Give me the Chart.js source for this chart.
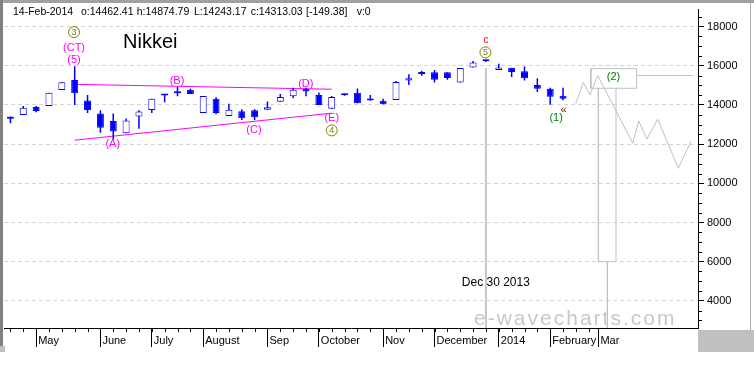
<!DOCTYPE html>
<html>
<head>
<meta charset="utf-8">
<script src="https://cdn.jsdelivr.net/npm/chart.js@4.4.1/dist/chart.umd.min.js"></script>
<style>
html,body{margin:0;padding:0;background:#fff;}
canvas{display:block;}
</style>
</head>
<body>
<canvas id="c" width="754" height="375" style="width:754px;height:375px"></canvas>
<script>
// ---------------- DATA ----------------
const weeks = ['2013-04-15','2013-04-22','2013-04-29','2013-05-06','2013-05-13','2013-05-20','2013-05-27',
  '2013-06-03','2013-06-10','2013-06-17','2013-06-24','2013-07-01','2013-07-08','2013-07-15','2013-07-22',
  '2013-07-29','2013-08-05','2013-08-12','2013-08-19','2013-08-26','2013-09-02','2013-09-09','2013-09-16',
  '2013-09-23','2013-09-30','2013-10-07','2013-10-14','2013-10-21','2013-10-28','2013-11-04','2013-11-11',
  '2013-11-18','2013-11-25','2013-12-02','2013-12-09','2013-12-16','2013-12-23','2013-12-30','2014-01-06',
  '2014-01-13','2014-01-20','2014-01-27','2014-02-03','2014-02-10'];
const opens  = [13350,13490,13890,13940,14760,15275,14225,13560,13175,12560,13410,13740,14480,14600,14775,
  13590,14310,13430,13675,13725,13760,14160,14440,14810,14510,13810,14560,14625,14310,14215,14250,
  15250,15680,15665,15665,15140,15915,16315,15780,15900,15715,15015,14830,14462.41];
const highs  = [13410,13940,13940,14625,15160,15975,14510,13725,13560,13310,13725,14310,14540,14925,14825,
  14460,14390,14060,13775,13775,14175,14560,14875,14875,14640,14460,14580,14840,14510,14315,15215,
  15565,15750,15780,15665,15880,16240,16315,16100,15900,15965,15365,14880,14874.79];
const lows   = [13060,13490,13625,13940,14760,13990,13590,12575,12240,12560,12790,13590,14140,14440,14560,
  13590,13525,13430,13225,13225,13760,14160,14340,14440,13990,13810,14470,14090,14225,14030,14250,
  15015,15490,15140,15280,15140,15915,16190,15780,15430,15250,14665,14015,14243.17];
const closes = [13300,13860,13690,14625,15160,14590,13740,12840,12640,13210,13660,14310,14520,14640,14560,
  14460,13590,13760,13325,13375,13875,14410,14775,14690,13990,14410,14490,14090,14225,14030,15165,
  15365,15580,15280,15380,15880,16165,16230,15915,15680,15365,14830,14415,14313.03];

// x-axis month separators (week position) and their labels
const monthTickPos    = [2, 7, 11, 15, 20, 24, 29, 33, 38, 42, 45.75];
const monthTickLabels = ['May','June','July','August','Sep','October','Nov','December','2014','February','Mar'];
const futureWeeks = 2;             // weekly minor ticks continue two weeks past the last candle

// y-axis
const Y_MIN = 2615, Y_MAX = 18865;
const yMajorTicks = [4000, 6000, 8000, 10000, 12000, 14000, 16000, 18000];
const yMinorStep = 500;

// triangle trend lines (week, price)
const trendUpperWeek = [5, 25],  trendUpperPrice = [15050, 14800];
const trendLowerWeek = [5, 25],  trendLowerPrice = [12200, 13580];

// projected path (grey zigzag)
const projWeek  = [43.99, 44.58, 45.10, 45.70, 48.42, 48.89, 49.52, 50.37, 51.97, 52.96];
const projPrice = [14065, 15150, 14515, 15500, 12050, 13180, 12265, 13265, 10765, 12150];

// (2) target box, its extension line and the long projection bar
const boxWeek  = [45.16, 48.72, 48.72, 45.16, 45.16];
const boxPrice = [14850, 14850, 15850, 15850, 14850];
const boxLineWeek = [48.72, 53.1], boxLinePrice = [15500, 15500];
const barBodyWeek  = [45.75, 45.75, 47.12, 47.12];
const barBodyPrice = [14850, 6000, 6000, 14850];
const barTailWeek  = [46.45, 46.45], barTailPrice = [6000, 1000];

// Dec 30 2013 marker line
const markerWeek = [37, 37], markerPrice = [15880, 1000];

// wave annotations (week, price)
const noteText  = ['3','(CT)','(5)','(A)','(B)','(C)','(D)','(E)','4','c','5','(1)','\u00ab','(2)','Dec 30 2013'];
const noteWeek  = [4.95, 4.95, 4.95, 7.96, 12.96, 18.95, 22.98, 25, 25, 37, 36.96, 42.46, 43.03, 46.92, 37.77];
const notePrice = [17715, 16930, 16300, 12050, 15265, 12750, 15115, 13350, 12700, 17350, 16680, 13350, 13750, 15465, 4965];
const noteKind  = ['circle','wave','wave','wave','wave','wave','wave','wave','circle','red','circle','green','dark','green','plain'];

const headerParts = ['14-Feb-2014','o:14462.41','h:14874.79','L:14243.17','c:14313.03','[-149.38]','v:0'];

// ---------------- STYLE ----------------
const FONT = "'Liberation Sans', Arial, sans-serif";
const BLUE = '#0000ff';
const GREY = '#c0c0c0';
const noteStyle = {
  circle: {color:'#808000', size:9},
  wave:   {color:'#ff00ff', size:11},
  red:    {color:'#ff0000', size:10},
  green:  {color:'#008000', size:11},
  dark:   {color:'#800000', size:11},
  plain:  {color:'#000000', size:12}
};
const headerX = [13, 81, 136.7, 194, 250.7, 306, 356.7];

const pts = (xs, ys) => xs.map((x, i) => ({x: x, y: ys[i]}));
const lineDs = (xs, ys, color, order) => ({
  type:'line', data: pts(xs, ys), borderColor: color, borderWidth: 1,
  pointRadius: 0, fill: false, tension: 0, order: order
});

const candleBodies = weeks.map((w, i) => ({x: i, y: [opens[i], closes[i]]}));
const candleWicks  = weeks.map((w, i) => ({x: i, y: [lows[i], highs[i]]}));

const framePlugin = {
  id: 'frame',
  beforeDraw(chart) {
    const c = chart.ctx;
    c.save();
    c.fillStyle = '#ffffff';
    c.fillRect(0, 0, 754, 375);
    c.fillStyle = '#a0a0a0';
    c.fillRect(0, 0, 754, 3);
    c.fillStyle = '#808080';
    c.fillRect(0, 0, 3, 347);
    c.fillStyle = '#c0c0c0';
    c.fillRect(0, 346, 5, 6);
    c.fillRect(698, 330, 56, 22);
    c.fillStyle = '#b0b0b0';
    c.fillRect(750, 3, 1, 327);
    c.restore();
  },
  afterDatasetsDraw(chart) {
    const c = chart.ctx;
    c.save();
    // watermark
    c.fillStyle = '#c8c8c8';
    c.font = '21px ' + FONT;
    try { c.letterSpacing = '2px'; } catch (e) {}
    c.textAlign = 'left'; c.textBaseline = 'alphabetic';
    c.fillText('e-wavecharts.com', 474, 325);
    try { c.letterSpacing = '0px'; } catch (e) {}
    c.restore();
  },
  afterDraw(chart) {
    const c = chart.ctx;
    const xs = chart.scales.x, ys = chart.scales.y;
    const area = chart.chartArea;
    c.save();
    // weekly minor ticks on x axis
    c.strokeStyle = '#000'; c.lineWidth = 1;
    c.beginPath();
    for (let i = 0; i < weeks.length + futureWeeks; i++) {
      const px = Math.round(xs.getPixelForValue(i)) + 0.5;
      c.moveTo(px, area.bottom); c.lineTo(px, area.bottom + 4);
    }
    // minor ticks on y axis
    for (let v = Math.ceil(Y_MIN / yMinorStep) * yMinorStep; v <= Y_MAX; v += yMinorStep) {
      if (yMajorTicks.includes(v)) continue;
      const py = Math.round(ys.getPixelForValue(v)) + 0.5;
      c.moveTo(area.right, py); c.lineTo(area.right + 4, py);
    }
    c.stroke();

    // header
    c.fillStyle = '#000';
    c.font = '10.5px ' + FONT;
    c.textAlign = 'left'; c.textBaseline = 'alphabetic';
    headerParts.forEach((t, i) => c.fillText(t, headerX[i], 15));
    // title
    c.font = '20px ' + FONT;
    c.fillText('Nikkei', 123, 48);

    // annotations
    c.textAlign = 'center'; c.textBaseline = 'middle';
    noteText.forEach((t, i) => {
      const st = noteStyle[noteKind[i]];
      const px = xs.getPixelForValue(noteWeek[i]);
      const py = ys.getPixelForValue(notePrice[i]);
      c.fillStyle = st.color;
      c.font = st.size + 'px ' + FONT;
      if (noteKind[i] === 'circle') {
        c.strokeStyle = st.color;
        c.beginPath(); c.arc(px, py, 5.5, 0, Math.PI * 2); c.stroke();
      }
      c.fillText(t, px, py + 0.5);
    });
    c.restore();
  }
};

new Chart(document.getElementById('c'), {
  type: 'bar',
  data: {
    datasets: [
      {
        type: 'bar', data: candleBodies, grouped: false,
        barThickness: 7, maxBarThickness: 7, minBarLength: 2, inflateAmount: 0,
        backgroundColor: ctx => (closes[ctx.dataIndex] < opens[ctx.dataIndex] ? BLUE : '#ffffff'),
        borderColor: BLUE, borderWidth: 1, borderSkipped: false, order: 0
      },
      {
        type: 'bar', data: candleWicks, grouped: false,
        barThickness: 1.5, maxBarThickness: 1.5, inflateAmount: 0,
        backgroundColor: BLUE, borderWidth: 0, order: 1
      },
      lineDs(trendUpperWeek, trendUpperPrice, '#ff00ff', 2),
      lineDs(trendLowerWeek, trendLowerPrice, '#ff00ff', 2),
      lineDs(projWeek, projPrice, GREY, 3),
      lineDs(boxWeek, boxPrice, GREY, 3),
      lineDs(boxLineWeek, boxLinePrice, GREY, 3),
      lineDs(barBodyWeek, barBodyPrice, GREY, 3),
      lineDs(barTailWeek, barTailPrice, GREY, 3),
      lineDs(markerWeek, markerPrice, GREY, 3)
    ]
  },
  options: {
    responsive: false,
    maintainAspectRatio: false,
    devicePixelRatio: 1,
    animation: false,
    events: [],
    layout: { padding: { left: 4, top: 3, right: 0, bottom: 0 } },
    plugins: { legend: { display: false }, tooltip: { enabled: false }, title: { display: false } },
    scales: {
      x: {
        type: 'linear', min: -0.5, max: 53.5, offset: false, position: 'bottom',
        afterBuildTicks: s => { s.ticks = monthTickPos.map(v => ({value: v})); },
        afterFit: s => { s.height = 47; },
        ticks: {
          autoSkip: false, maxRotation: 0, minRotation: 0, align: 'start',
          padding: -13, labelOffset: 2, color: '#000',
          font: { family: FONT, size: 11 },
          callback: (v, i) => monthTickLabels[i]
        },
        grid: { drawOnChartArea: false, drawTicks: true, tickLength: 19, color: '#000', offset: false },
        border: { display: true, color: '#000', width: 1 }
      },
      y: {
        type: 'linear', position: 'right', min: Y_MIN, max: Y_MAX,
        afterBuildTicks: s => { s.ticks = yMajorTicks.map(v => ({value: v})); },
        afterFit: s => { s.width = 56; },
        ticks: {
          autoSkip: false, padding: 3, color: '#000',
          font: { family: FONT, size: 11 },
          callback: v => String(v)
        },
        grid: { color: '#d4d4d4', tickColor: '#000', tickLength: 6, drawTicks: true },
        border: { display: true, color: '#000', width: 1, dash: [4, 3] }
      }
    }
  },
  plugins: [framePlugin]
});
</script>
</body>
</html>
